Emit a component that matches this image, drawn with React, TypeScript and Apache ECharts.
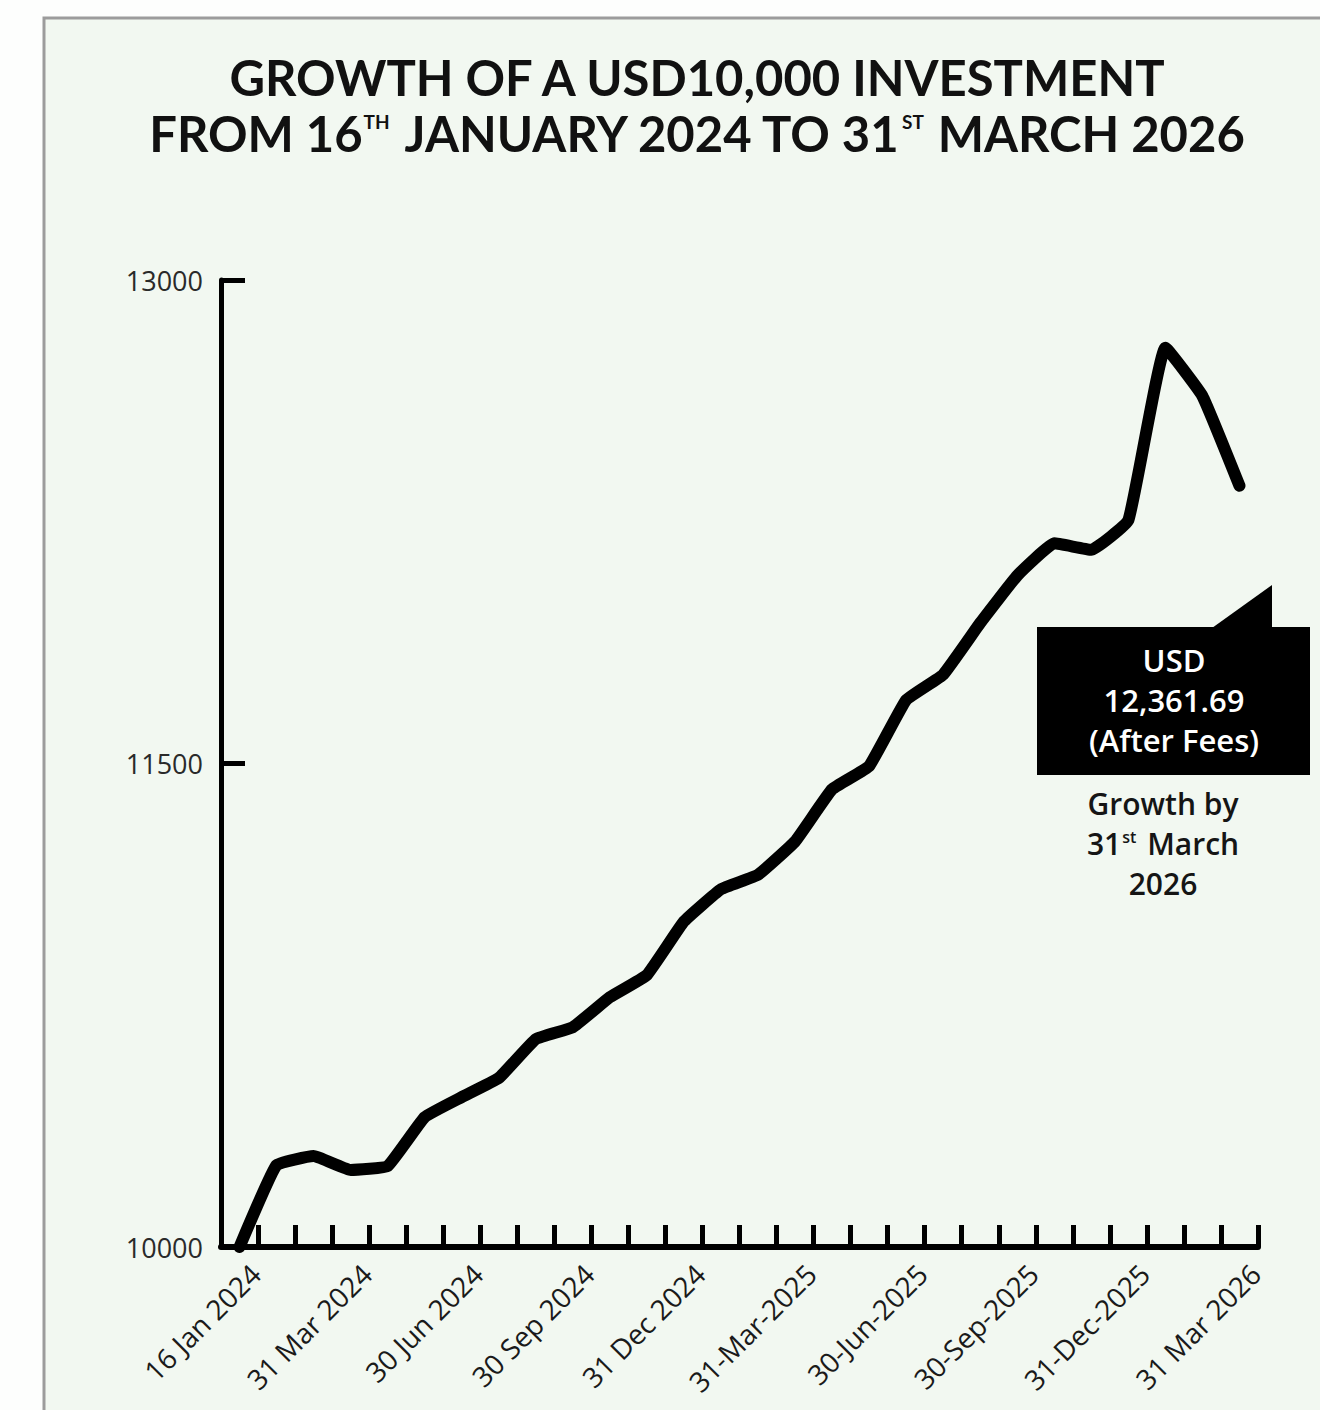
import React, { useEffect, useRef } from 'react';
import * as echarts from 'echarts';

const categories = [
  '16 Jan 2024', '31 Jan 2024', '29 Feb 2024', '31 Mar 2024', '30 Apr 2024', '31 May 2024',
  '30 Jun 2024', '31 Jul 2024', '31 Aug 2024', '30 Sep 2024', '31 Oct 2024', '30 Nov 2024',
  '31 Dec 2024', '31-Jan-2025', '28-Feb-2025', '31-Mar-2025', '30-Apr-2025', '31-May-2025',
  '30-Jun-2025', '31-Jul-2025', '31-Aug-2025', '30-Sep-2025', '31-Oct-2025', '30-Nov-2025',
  '31-Dec-2025', '31 Jan 2026', '28 Feb 2026', '31 Mar 2026',
];

const values = [
  10000, 10254, 10282, 10239, 10251, 10403,
  10465, 10524, 10645, 10682, 10775, 10844,
  11010, 11110, 11155, 11258, 11420, 11492,
  11697, 11776, 11936, 12083, 12183, 12163,
  12255, 12790, 12640, 12361.69,
];

const labelIndices = [0, 3, 6, 9, 12, 15, 18, 21, 24, 27];
const yTicks = [10000, 11500, 13000];

const titleLine1 = 'GROWTH OF A USD10,000 INVESTMENT';
const titleLine2Parts = ['FROM 16', 'TH', ' JANUARY 2024 TO 31', 'ST', ' MARCH 2026'];
const boxLines = ['USD', '12,361.69', '(After Fees)'];
const growthParts = ['Growth by', '31', 'st', ' March', '2026'];

export default function App() {
  const ref = useRef<HTMLDivElement>(null);

  useEffect(() => {
    const chart = echarts.init(ref.current as HTMLDivElement, null, { renderer: 'svg' });
    const labelFont = '"Open Sans", "Noto Sans", sans-serif';
    chart.setOption({
      animation: false,
      backgroundColor: '#fdfefd',
      title: {
        left: 692,
        top: 44,
        textAlign: 'center',
        text:
          `{a|${titleLine1}}\n` +
          `{a|${titleLine2Parts[0]}}{s|${titleLine2Parts[1]}}{a|${titleLine2Parts[2]}}{s|${titleLine2Parts[3]}}{a|${titleLine2Parts[4]}}`,
        textStyle: {
          rich: {
            a: { fontFamily: 'Lato, sans-serif', fontWeight: 'bold', fontSize: 49, lineHeight: 56, color: '#111' },
            s: { fontFamily: 'Lato, sans-serif', fontWeight: 'bold', fontSize: 19, verticalAlign: 'top', padding: [7, 2, 0, 1], color: '#111' },
          },
        },
      },
      grid: { left: 221, top: 280, right: 62, bottom: 163, containLabel: false, outerBoundsMode: 'none' },
      xAxis: {
        type: 'category',
        data: categories,
        boundaryGap: true,
        axisLine: { show: true, lineStyle: { color: '#000', width: 6 } },
        axisTick: { show: true, inside: true, length: 22, interval: 0, lineStyle: { color: '#000', width: 5 } },
        axisLabel: {
          interval: (i: number) => labelIndices.includes(i),
          showMinLabel: true,
          showMaxLabel: true,
          hideOverlap: false,
          rotate: 45,
          margin: 6,
          verticalAlign: 'top',
          lineHeight: 45,
          fontFamily: labelFont,
          fontSize: 28,
          color: '#1a1a1a',
        },
        splitLine: { show: false },
      },
      yAxis: {
        type: 'value',
        min: 10000,
        max: 13000,
        axisLine: { show: true, lineStyle: { color: '#000', width: 5 } },
        axisTick: { show: true, inside: true, length: 24, customValues: yTicks, lineStyle: { color: '#000', width: 5 } },
        axisLabel: {
          customValues: yTicks,
          formatter: (v: number) => String(v),
          margin: 18,
          fontFamily: labelFont,
          fontSize: 27,
          color: '#2a2a2a',
        },
        splitLine: { show: false },
      },
      series: [
        {
          type: 'line',
          data: values,
          symbol: 'none',
          smooth: 0.1,
          lineStyle: { color: '#000', width: 12, join: 'round', cap: 'round' },
          z: 3,
        },
      ],
      graphic: [
        {
          type: 'rect',
          z: -10,
          shape: { x: 44, y: 18, width: 1320, height: 1420 },
          style: { fill: '#f2f8f1', stroke: '#9c9c9c', lineWidth: 3 },
        },
        {
          type: 'rect',
          z: 10,
          shape: { x: 1037, y: 627, width: 273, height: 148 },
          style: { fill: '#000' },
        },
        {
          type: 'polygon',
          z: 10,
          shape: { points: [[1212, 628], [1272, 585], [1272, 628]] },
          style: { fill: '#000' },
        },
        {
          type: 'text',
          z: 11,
          x: 1174,
          y: 700,
          style: {
            text: boxLines.join('\n'),
            fill: '#fff',
            fontSize: 31,
            fontWeight: 600,
            lineHeight: 40,
            fontFamily: labelFont,
            align: 'center',
            verticalAlign: 'middle',
          },
        },
        {
          type: 'text',
          z: 11,
          x: 1163,
          y: 843,
          style: {
            text: `{a|${growthParts[0]}}\n{a|${growthParts[1]}}{s|${growthParts[2]}}{a|${growthParts[3]}}\n{a|${growthParts[4]}}`,
            align: 'center',
            verticalAlign: 'middle',
            rich: {
              a: { fontSize: 30, fontWeight: 600, lineHeight: 40, fontFamily: labelFont, fill: '#151515' },
              s: { fontSize: 16, fontWeight: 600, fontFamily: labelFont, fill: '#151515', verticalAlign: 'top', padding: [6, 3, 0, 1] },
            },
          },
        },
      ],
    });
    return () => chart.dispose();
  }, []);

  return <div ref={ref} style={{ position: 'absolute', left: 0, top: 0, width: 1320, height: 1410 }} />;
}
